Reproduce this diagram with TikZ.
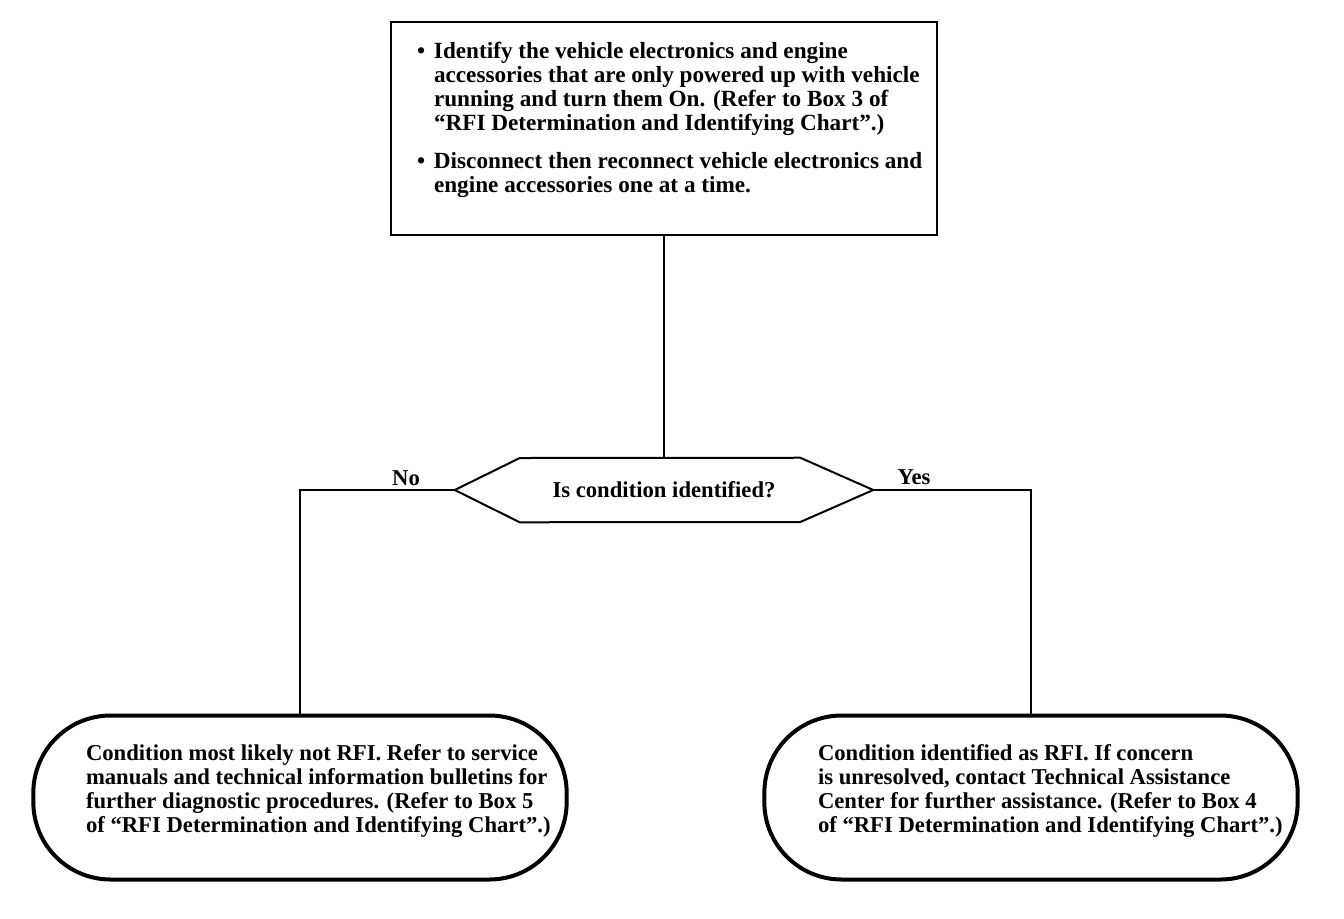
\documentclass[tikz,border=0pt]{standalone}
\usepackage{fontspec}
\setmainfont{Liberation Serif}
\begin{document}
\begin{tikzpicture}[x=0.75pt,y=-0.75pt,
  every node/.style={font=\bfseries\fontsize{17.4}{18}\selectfont},
  endfont/.style={font=\bfseries\fontsize{17}{18}\selectfont},
  stepbox/.style={draw,line width=1.5pt,minimum width=409.5pt,minimum height=159.75pt,inner sep=0pt,anchor=center},
  endbox/.style={draw,line width=3pt,rounded corners=58pt,minimum width=400pt,minimum height=123pt,inner sep=0pt,endfont},
  conn/.style={line width=1.5pt},
  lbl/.style={inner sep=0pt}]
\useasboundingbox (0,0) rectangle (1344,918);
\node[stepbox] (box) at (664,128.5) {%
\makebox[370.5pt][l]{\parbox{400pt}{%
\makebox[12.75pt][l]{\textbullet}\parbox[t]{385pt}{Identify the vehicle electronics and engine\\
accessories that are only powered up with vehicle\\
running and turn them On. (Refer to Box 3 of\\
``RFI Determination and Identifying Chart''.)}\par
\vspace{12pt}
\makebox[12.75pt][l]{\textbullet}\parbox[t]{385pt}{Disconnect then reconnect vehicle electronics and\\
engine accessories one at a time.}\par
\vspace*{13pt}}}};
\node[minimum width=313.5pt,minimum height=48pt,inner sep=0pt,endfont] (dec) at (664,490) {Is condition identified?};
\draw[conn] (dec.west) -- ++(65,-32) -- ([xshift=-54.75pt]dec.north east) -- (dec.east) -- ++(-73,32) -- ([xshift=48.75pt]dec.south west) -- cycle;
\node[endbox] (no) at (300,797.5) {\hspace*{9pt}\makebox[330pt][l]{\parbox{370pt}{\raggedright Condition most likely not RFI. Refer to service\\
manuals and technical information bulletins for\\
further diagnostic procedures. (Refer to Box 5\\
of ``RFI Determination and Identifying Chart''.)\\[10pt]}}};
\node[endbox] (yes) at (1031,797.5) {\hspace*{10.5pt}\makebox[330pt][l]{\parbox{370pt}{\raggedright Condition identified as RFI. If concern\\
is unresolved, contact Technical Assistance\\
Center for further assistance. (Refer to Box 4\\
of ``RFI Determination and Identifying Chart''.)\\[10pt]}}};
\draw[conn] (dec.north |- box.south) -- (dec.north);
\draw[conn] (dec.west) -| (no.north);
\draw[conn] (dec.east) -| (yes.north);
\node[lbl,endfont] (nolbl) at (406,478) {No};
\node[lbl,endfont] (yeslbl) at (914,477) {Yes};
\end{tikzpicture}
\end{document}
